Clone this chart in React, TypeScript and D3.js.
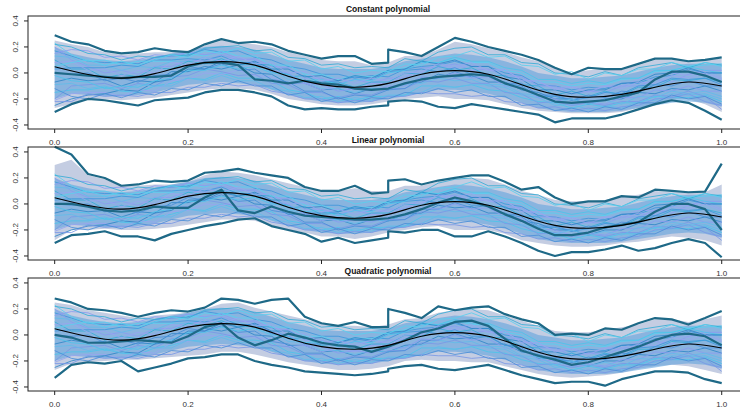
import React from "react";
import * as d3 from "d3";

// grid of evaluation points (0 .. 1 by 0.025); outlier curves carry a break at 0.5
const tGrid = d3.range(41).map((i) => i / 40);
const tBreak = [...tGrid.slice(0, 21), ...tGrid.slice(20)];
const tMean = d3.range(21).map((i) => i / 20);

const xTicks = [0, 0.2, 0.4, 0.6, 0.8, 1.0];
const yTicks = [-0.4, -0.2, 0.0, 0.2, 0.4];
const titles = ["Constant polynomial", "Linear polynomial", "Quadratic polynomial"];

// true trend (black)
const meanCurve = [0.048, -0.012, -0.04, -0.005, 0.06, 0.087, 0.06, -0.025, -0.09, -0.11, -0.08, -0.01, 0.018, -0.01, -0.09, -0.165, -0.187, -0.165, -0.11, -0.07, -0.1];

// simulated sample paths (thin lines)
const c1 = [.17,.13,.09,.08,.08,.07,.12,.13,.14,.18,.16,.17,.12,.10,.05,.03,-.01,-.01,-.04,-.02,-.03,.03,.05,.06,.09,.05,.05,0,-.02,-.09,-.1,-.13,-.11,-.12,-.08,-.08,-.03,-.02,.03,0,0];
const c2 = [-.15,-.13,-.13,-.11,-.14,-.15,-.1,-.08,-.04,-.05,0,-.04,-.04,-.06,-.13,-.15,-.2,-.18,-.21,-.18,-.18,-.17,-.1,-.1,-.11,-.09,-.13,-.14,-.19,-.22,-.23,-.27,-.24,-.26,-.23,-.23,-.18,-.19,-.19,-.17,-.22];
const c3 = [.2,.1,.05,0,.02,-.01,.05,.05,.1,.09,.14,.1,.11,.05,.04,-.04,-.04,-.08,-.05,-.08,-.04,-.04,.04,.04,.07,.02,.03,-.02,-.03,-.1,-.1,-.16,-.14,-.15,-.1,-.1,-.05,-.07,-.01,.02,.02];
const c4 = [-.07,-.04,-.06,-.05,-.1,-.06,-.07,.01,.01,.05,.03,.06,0,-.01,-.08,-.08,-.13,-.12,-.16,-.12,-.13,-.08,-.07,-.01,-.03,-.02,-.07,-.07,-.13,-.15,-.2,-.2,-.24,-.2,-.2,-.15,-.16,-.12,-.13,-.1,-.14];
const c5 = [.13,.12,.06,.06,.02,.05,.04,.09,.09,.12,.1,.1,.05,.03,-.05,-.06,-.12,-.12,-.15,-.12,-.13,-.09,-.08,-.04,-.06,-.05,-.1,-.11,-.17,-.19,-.25,-.24,-.28,-.25,-.27,-.22,-.21,-.16,-.17,-.16,-.2];
const c6 = [-.21,-.16,-.15,-.15,-.18,-.13,-.14,-.06,-.05,0,-.01,.02,-.02,-.03,-.09,-.08,-.13,-.1,-.13,-.08,-.08,-.02,0,.05,.04,.06,.02,.02,-.05,-.07,-.12,-.1,-.14,-.1,-.1,-.05,-.05,0,-.02,.02,-.04];
const c7 = [.1,.03,.03,-.04,-.01,-.03,.04,.03,.09,.07,.11,.06,.07,.06,-.03,-.02,-.08,-.07,-.11,-.07,-.07,0,-.01,.05,.02,.04,-.02,-.02,-.09,-.1,-.17,-.14,-.18,-.14,-.17,-.11,-.11,-.05,-.06,-.04,-.07];
const c8 = [-.2,-.1,-.09,-.08,-.12,-.08,-.1,-.03,-.02,.03,.01,-.02,-.01,-.08,-.09,-.15,-.15,-.19,-.16,-.17,-.12,-.12,-.06,-.07,-.04,-.08,-.08,-.15,-.16,-.23,-.22,-.25,-.23,-.25,-.22,-.22,-.17,-.18,-.14,-.18,-.28];
const c9 = [.23,.14,.09,.1,.06,.09,.09,.09,.15,.13,.17,.13,.13,.06,.06,-.01,-.01,-.05,-.02,-.03,.02,.04,.09,.08,.11,.08,.08,.02,0,-.07,-.07,-.1,-.08,-.09,-.05,-.04,.01,.02,.05,.06,.07];
const c10 = [0,-.01,0,-.06,-.04,-.07,-.02,-.01,.05,.03,.07,.02,.03,-.05,-.07,-.14,-.14,-.2,-.17,-.18,-.13,-.12,-.04,-.04,.01,-.03,-.01,-.08,-.08,-.17,-.17,-.21,-.17,-.19,-.14,-.15,-.09,-.1,-.06,-.1,-.1];
const c11 = [.03,.04,.04,.04,.06,.05,.1,.1,.11,.1,.13,.08,.08,.01,-.01,-.07,-.07,-.06,-.03,-.05,.01,.02,.03,.01,.04,-.01,-.01,-.08,-.1,-.18,-.18,-.21,-.19,-.15,-.16,-.1,-.09,-.04,-.05,-.04,-.09];
const c12 = [-.02,-.06,-.07,-.12,-.1,-.11,-.06,-.04,.02,.02,.06,.03,.05,0,-.01,-.06,-.05,-.09,-.05,-.06,0,.02,.08,.08,.12,.09,.09,.04,.02,-.05,-.05,-.08,-.06,-.08,-.04,-.04,.02,.02,.05,.02,0];
const c13 = [.15,.18,.17,.12,.13,.1,.14,.13,.16,.14,.16,.11,.1,.02,0,-.08,-.09,-.14,-.12,-.14,-.1,-.1,-.03,-.04,0,-.04,-.03,-.1,-.11,-.19,-.2,-.24,-.22,-.24,-.19,-.19,-.13,-.14,-.1,-.14,-.14];
const c14 = [-.25,-.2,-.17,-.16,-.13,-.14,-.07,-.05,.03,.03,.09,.06,.09,.03,.03,-.03,-.02,-.06,-.02,-.04,.02,.03,.09,.07,.1,.05,.05,-.03,-.05,-.13,-.13,-.16,-.13,-.13,-.08,-.07,-.01,0,.04,0,0];
const c15 = [-.09,-.08,-.12,-.1,-.14,-.09,-.1,-.1,-.04,-.06,-.02,-.06,-.06,-.12,-.14,-.19,-.18,-.22,-.19,-.21,-.17,-.17,-.15,-.09,-.11,-.09,-.09,-.09,-.16,-.17,-.23,-.2,-.24,-.21,-.24,-.18,-.19,-.14,-.16,-.14,-.18];
const c16 = [.08,.09,.02,.03,-.02,.02,0,.08,.06,.12,.09,.13,.07,.08,0,.01,-.06,-.04,-.08,-.04,-.06,0,.01,.07,.05,.08,.02,.03,-.06,-.06,-.13,-.11,-.15,-.1,-.12,-.07,-.08,-.02,-.04,0,-.05];
const c17 = [.22,.2,.15,.14,.1,.13,.12,.14,.13,.19,.2,.21,.17,.18,.12,.11,.06,.07,.04,.05,.04,.11,.09,.16,.19,.2,.14,.14,.08,.07,0,-.01,-.03,.01,-.02,.04,.06,.08,.04,.08,.06];
const c18 = [-.22,-.22,-.16,-.18,-.17,-.18,-.15,-.15,-.11,-.11,-.08,-.1,-.09,-.14,-.16,-.2,-.2,-.23,-.21,-.22,-.18,-.18,-.15,-.16,-.16,-.18,-.17,-.22,-.23,-.27,-.26,-.29,-.27,-.29,-.26,-.25,-.2,-.19,-.16,-.22,-.25];
const c19 = [.05,.08,.1,.06,.09,.06,.1,.14,.12,.17,.15,.19,.15,.16,.09,.1,.03,.05,0,.02,.01,.07,.06,.12,.13,.17,.12,.13,.06,.05,-.01,.01,-.05,0,-.02,.03,.03,.08,.05,.08,.05];
const c20 = [-.12,-.18,-.2,-.16,-.19,-.15,-.17,-.12,-.13,-.08,-.1,-.06,-.1,-.1,-.17,-.15,-.22,-.19,-.23,-.19,-.2,-.15,-.16,-.12,-.15,-.13,-.18,-.18,-.25,-.24,-.29,-.27,-.3,-.26,-.28,-.23,-.23,-.17,-.2,-.18,-.24];
const samplePaths = [c1, c2, c3, c4, c5, c6, c7, c8, c9, c10, c11, c12, c13, c14, c15, c16, c17, c18, c19, c20];

// dense core of the sample paths
const coreUpper = [.2,.15,.12,.1,.09,.1,.12,.15,.17,.2,.21,.2,.18,.14,.1,.07,.04,.03,.03,.03,.05,.09,.11,.13,.15,.14,.12,.09,.05,0,-.02,-.04,-.04,-.03,-.02,.01,.04,.06,.07,.07,.07];
const coreLower = [-.2,-.16,-.17,-.18,-.18,-.17,-.15,-.12,-.09,-.08,-.07,-.08,-.09,-.13,-.17,-.2,-.22,-.23,-.23,-.22,-.2,-.18,-.15,-.13,-.13,-.14,-.16,-.19,-.23,-.27,-.29,-.3,-.3,-.3,-.29,-.27,-.25,-.23,-.22,-.23,-.26];

// envelopes (shaded band) per panel
const envUpper1 = [.25,.22,.2,.16,.14,.15,.16,.16,.17,.21,.25,.23,.22,.2,.16,.13,.1,.09,.09,.06,.08,.13,.13,.18,.24,.22,.19,.16,.12,.09,.04,0,.02,.03,.03,.06,.1,.1,.09,.1,.11];
const envLower1 = [-.27,-.24,-.2,-.2,-.21,-.2,-.19,-.17,-.15,-.13,-.12,-.12,-.13,-.16,-.2,-.22,-.24,-.25,-.25,-.24,-.22,-.2,-.19,-.18,-.2,-.2,-.21,-.24,-.27,-.29,-.3,-.31,-.31,-.31,-.3,-.27,-.24,-.2,-.2,-.24,-.3];
const envUpper2 = [.3,.34,.22,.19,.14,.14,.15,.15,.17,.22,.25,.24,.22,.19,.16,.13,.1,.1,.12,.1,.1,.14,.14,.17,.19,.2,.19,.15,.1,.07,.03,.02,.02,.03,.06,.07,.1,.09,.09,.09,.15];
const envLower2 = [-.28,-.2,-.2,-.19,-.2,-.2,-.19,-.18,-.16,-.14,-.12,-.12,-.13,-.17,-.2,-.22,-.25,-.25,-.27,-.25,-.22,-.2,-.18,-.17,-.2,-.2,-.2,-.23,-.28,-.3,-.32,-.33,-.33,-.32,-.3,-.29,-.27,-.25,-.26,-.28,-.32];
const envUpper3 = [.25,.23,.19,.17,.15,.13,.15,.16,.17,.2,.24,.25,.21,.18,.15,.12,.09,.07,.07,.06,.08,.12,.13,.17,.19,.2,.19,.15,.11,.07,.03,.02,.02,.04,.06,.08,.12,.12,.1,.12,.15];
const envLower3 = [-.27,-.22,-.21,-.2,-.19,-.19,-.18,-.17,-.16,-.15,-.13,-.13,-.15,-.18,-.21,-.23,-.25,-.27,-.27,-.26,-.24,-.2,-.19,-.2,-.2,-.21,-.21,-.24,-.27,-.3,-.32,-.33,-.32,-.31,-.29,-.26,-.24,-.23,-.24,-.27,-.3];

// outlying curves (thick), on tBreak (0.5 appears twice)
const top1 = [.29,.24,.22,.17,.15,.16,.19,.17,.16,.22,.26,.23,.24,.22,.17,.14,.11,.13,.13,.07,.08,.18,.16,.13,.2,.27,.24,.2,.17,.14,.1,.04,-.01,.04,.03,.03,.07,.11,.11,.09,.1,.12];
const bottom1 = [-.3,-.24,-.2,-.21,-.23,-.25,-.21,-.2,-.19,-.15,-.13,-.13,-.15,-.18,-.25,-.28,-.27,-.28,-.28,-.26,-.25,-.22,-.21,-.22,-.26,-.27,-.24,-.26,-.28,-.3,-.32,-.38,-.35,-.35,-.35,-.32,-.28,-.24,-.21,-.23,-.29,-.36];
const shape1 = [0,-.01,-.02,-.03,-.04,-.03,-.03,-.02,.05,.08,.08,.06,-.05,-.06,-.08,-.06,-.08,-.09,-.12,-.13,-.12,-.12,-.08,-.05,-.03,-.02,-.01,-.02,-.08,-.12,-.17,-.22,-.23,-.22,-.21,-.18,-.15,-.05,.01,.01,-.02,-.07];
const top2 = [.44,.38,.23,.2,.14,.15,.18,.17,.18,.24,.25,.27,.24,.22,.2,.13,.1,.1,.14,.08,.09,.18,.19,.15,.18,.2,.22,.22,.17,.11,.13,.05,0,.02,.02,.06,.05,.11,.1,.09,.095,.31];
const bottom2 = [-.3,-.24,-.23,-.21,-.25,-.25,-.28,-.23,-.2,-.17,-.15,-.12,-.11,-.17,-.2,-.23,-.29,-.26,-.3,-.28,-.26,-.21,-.22,-.2,-.2,-.25,-.25,-.21,-.25,-.3,-.36,-.4,-.37,-.37,-.35,-.32,-.36,-.34,-.3,-.27,-.3,-.41];
const shape2 = [0,0,-.02,-.05,-.06,-.05,-.02,-.03,-.03,.05,.11,-.05,-.07,-.02,-.06,-.09,-.1,-.11,-.12,-.12,-.11,-.11,-.08,-.04,.01,.05,.02,-.02,-.08,-.13,-.19,-.24,-.24,-.22,-.18,-.16,-.14,-.06,0,0,-.04,-.2];
const top3 = [.28,.25,.2,.19,.17,.14,.17,.19,.18,.21,.28,.27,.24,.27,.28,.14,.09,.07,.1,.06,.06,.2,.17,.13,.22,.19,.21,.22,.16,.12,.09,0,.01,0,.05,.04,.09,.13,.12,.08,.13,.185];
const bottom3 = [-.33,-.23,-.21,-.22,-.2,-.28,-.25,-.22,-.18,-.17,-.15,-.15,-.2,-.23,-.25,-.28,-.29,-.3,-.31,-.3,-.28,-.26,-.24,-.23,-.26,-.27,-.25,-.23,-.27,-.31,-.34,-.37,-.36,-.36,-.39,-.34,-.31,-.28,-.28,-.29,-.34,-.37];
const shape3 = [0,-.02,-.06,-.06,-.05,-.04,-.05,-.06,-.01,.06,.09,-.02,-.08,-.04,.01,-.02,-.06,-.08,-.09,-.13,-.09,-.09,-.04,.02,.05,.1,.11,.07,-.03,-.12,-.16,-.19,-.23,-.21,-.17,-.13,-.09,-.04,0,.01,-.01,-.08];

const panels = [
  { title: titles[0], upper: envUpper1, lower: envLower1, outliers: [top1, bottom1, shape1] },
  { title: titles[1], upper: envUpper2, lower: envLower2, outliers: [top2, bottom2, shape2] },
  { title: titles[2], upper: envUpper3, lower: envLower3, outliers: [top3, bottom3, shape3] },
];

const thinColors = ["#3f96dc", "#4cc4ea", "#8a9cf0", "#2f86c8", "#62bce8", "#97a5ee", "#36acd6", "#7a98e6", "#58d0ee", "#4a8fd8"];

const FONT = "'Liberation Sans', Arial, Helvetica, sans-serif";
const panelH = 113;
const panelTops = [16, 147, 278];

const Panel = ({ p, top }) => {
  const x = d3.scaleLinear().domain([-0.04, 1.04]).range([28, 748.4]);
  const y = d3.scaleLinear().domain([-0.431, 0.438]).range([panelH, 0]);

  const band = (up, lo) =>
    d3.area<number>()
      .x((_, i) => x(tGrid[i]))
      .y0((_, i) => y(lo[i]))
      .y1((d) => y(d))(up);

  const thin = d3.line<number>().x((_, i) => x(tGrid[i])).y((d) => y(d));
  const thick = d3.line<number>().x((_, i) => x(tBreak[i])).y((d) => y(d));
  const smooth = d3.line<number>().x((_, i) => x(tMean[i])).y((d) => y(d)).curve(d3.curveNatural);

  return (
    <g transform={`translate(0,${top})`}>
      <text x={388} y={-4.5} textAnchor="middle" fontFamily={FONT} fontSize={8.5} fontWeight="bold" fill="#111">
        {p.title}
      </text>
      <path d={band(p.upper, p.lower)} fill="#c4cde2" />
      <path d={band(coreUpper, coreLower)} fill="#62a4de" opacity={0.6} />
      {samplePaths.map((c, i) => (
        <path key={i} d={thin(c)} fill="none" stroke={thinColors[i % thinColors.length]} strokeWidth={0.85} />
      ))}
      {p.outliers.map((c, i) => (
        <path key={i} d={thick(c)} fill="none" stroke="#1e6987" strokeWidth={2.2} strokeLinejoin="round" />
      ))}
      <path d={smooth(meanCurve)} fill="none" stroke="#000" strokeWidth={1.1} />
      <rect x={28} y={0} width={720.4} height={panelH} fill="none" stroke="#222" strokeWidth={1} />
      {yTicks.map((t) => (
        <g key={t} transform={`translate(28,${y(t)})`}>
          <line x1={0} x2={-4} stroke="#222" />
          <text transform="translate(-13,0) rotate(-90)" textAnchor="middle" dominantBaseline="central" fontFamily={FONT} fontSize={8} fill="#333">
            {t.toFixed(1)}
          </text>
        </g>
      ))}
      {xTicks.map((t) => (
        <g key={t} transform={`translate(${x(t)},${panelH})`}>
          <line y1={0} y2={4} stroke="#222" />
          <text y={15.5} textAnchor="middle" fontFamily={FONT} fontSize={8} fill="#333">
            {t.toFixed(1)}
          </text>
        </g>
      ))}
    </g>
  );
};

export default function App() {
  return (
    <svg width={740} height={410} style={{ position: "absolute", left: 0, top: 0, background: "#fff" }}>
      {panels.map((p, i) => (
        <Panel key={i} p={p} top={panelTops[i]} />
      ))}
    </svg>
  );
}
